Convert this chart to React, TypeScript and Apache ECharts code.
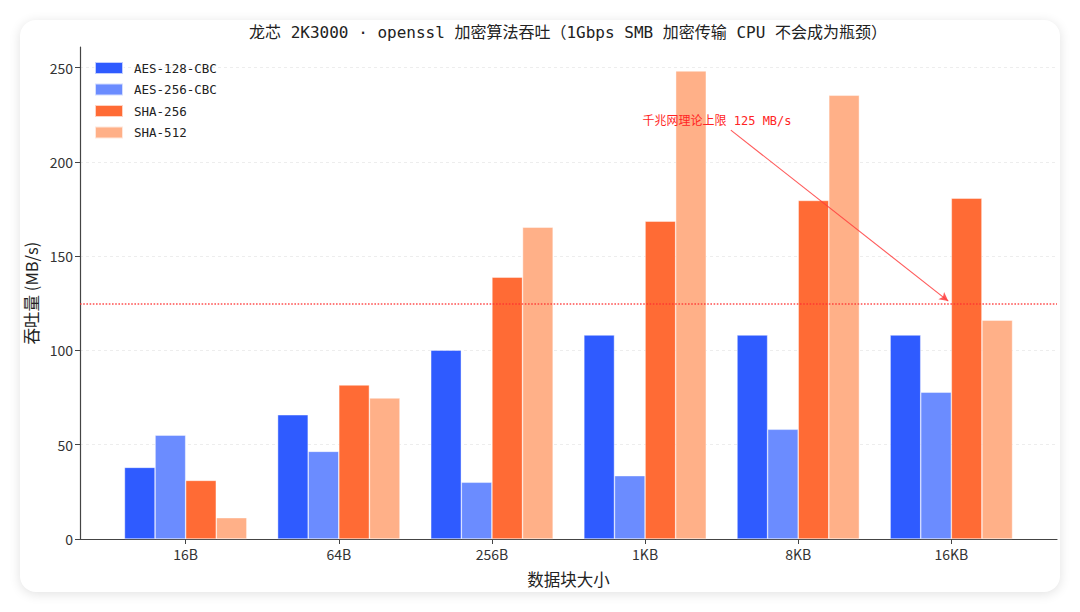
import React, { useEffect, useRef } from "react";
import * as echarts from "echarts";

const categories = ["16B", "64B", "256B", "1KB", "8KB", "16KB"];
const seriesNames = ["AES-128-CBC", "AES-256-CBC", "SHA-256", "SHA-512"];
const aes128 = [38.0, 65.9, 100.2, 108.2, 108.2, 108.2];
const aes256 = [55.1, 46.5, 30.1, 33.6, 58.2, 77.9];
const sha256 = [31.1, 81.7, 138.9, 168.6, 179.6, 180.8];
const sha512 = [11.3, 74.8, 165.4, 248.3, 235.4, 116.1];
const seriesColors = ["#2F5BFF", "#6B8CFF", "#FF6B35", "#FFB088"];
const yTicks = [0, 50, 100, 150, 200, 250];
const limitValue = 125;
const annotationText = "千兆网理论上限 125 MB/s";
const arrowFrom = [3.56, 216.9];
const arrowTo = [4.98, 126.2];
const annotationTextPos = [3.47, 221.5];

const titleText = "龙芯 2K3000 · openssl 加密算法吞吐（1Gbps SMB 加密传输 CPU 不会成为瓶颈）";
const MONO = "'DejaVu Sans Mono', 'Noto Sans CJK SC', monospace";
const SANS = "'Noto Sans CJK SC', 'Noto Sans', sans-serif";

export default function App() {
  const ref = useRef<HTMLDivElement>(null);

  useEffect(() => {
    if (!ref.current) return;
    const chart = echarts.init(ref.current, undefined, { renderer: "svg" });
    const values = [aes128, aes256, sha256, sha512];
    const series: any[] = values.map((vals, k) => ({
      type: "bar",
      name: seriesNames[k],
      data: vals.map((v, i) => [i, v]),
      barWidth: 30.6,
      barGap: "0%",
      itemStyle: {
        color: seriesColors[k],
        borderColor: "rgba(255,255,255,0.7)",
        borderWidth: 0.6,
      },
      emphasis: { disabled: true },
    }));
    // horizontal reference line at 125 MB/s (spans the full grid width)
    series[0].markLine = {
      silent: true,
      animation: false,
      symbol: ["none", "none"],
      label: { show: false },
      lineStyle: { color: "#FF3030", opacity: 0.85, type: [1.6, 1.6], width: 1.5 },
      data: [{ yAxis: limitValue }],
    };
    // annotation arrow + text
    series.push({
      type: "line",
      name: "annotation",
      data: [],
      silent: true,
      itemStyle: { color: "#FF4040" },
      markLine: {
        silent: true,
        animation: false,
        symbol: ["none", "arrow"],
        symbolSize: [7, 9],
        label: { show: false },
        lineStyle: { color: "rgba(255,60,60,0.85)", type: "solid", width: 1.1 },
        data: [[{ coord: arrowFrom }, { coord: arrowTo }]],
      },
      markPoint: {
        silent: true,
        animation: false,
        symbol: "circle",
        symbolSize: 0,
        data: [
          {
            coord: annotationTextPos,
            label: {
              show: true,
              position: "inside",
              formatter: annotationText,
              color: "#FF2424",
              fontSize: 12,
              fontFamily: MONO,
            },
          },
        ],
      },
    });

    chart.setOption({
      animation: false,
      title: {
        text: titleText,
        left: 568,
        top: 24,
        padding: 0,
        textAlign: "center",
        textStyle: { fontSize: 16, fontWeight: "normal", color: "#222", fontFamily: MONO },
      },
      legend: {
        orient: "vertical",
        left: 94,
        top: 61,
        padding: 0,
        itemWidth: 28,
        itemHeight: 12,
        itemGap: 7.5,
        icon: "rect",
        selectedMode: false,
        textStyle: { fontSize: 12.5, color: "#222", fontFamily: MONO, padding: [0, 0, 0, 6] },
        data: seriesNames,
      },
      grid: { left: 80, right: 23, top: 47, bottom: 73 },
      xAxis: {
        type: "value",
        min: -0.69,
        max: 5.69,
        name: "数据块大小",
        nameLocation: "middle",
        nameGap: 32,
        nameTextStyle: { fontSize: 16.5, color: "#222", fontFamily: SANS },
        axisLine: { show: true, onZero: false, lineStyle: { color: "#444", width: 1.2 } },
        axisTick: { show: true, length: 5, customValues: [0, 1, 2, 3, 4, 5], lineStyle: { color: "#444" } },
        axisLabel: {
          customValues: [0, 1, 2, 3, 4, 5],
          formatter: (v: number) => categories[Math.round(v)] ?? "",
          fontSize: 14,
          color: "#333",
          margin: 8,
          fontFamily: SANS,
        },
        splitLine: { show: false },
      },
      yAxis: {
        type: "value",
        min: 0,
        max: 261,
        interval: 50,
        name: "吞吐量 (MB/s)",
        nameLocation: "middle",
        nameGap: 39,
        nameTextStyle: { fontSize: 16.5, color: "#222", fontFamily: SANS },
        axisLine: { show: true, onZero: false, lineStyle: { color: "#444", width: 1.2 } },
        axisTick: { show: true, length: 5, customValues: yTicks, lineStyle: { color: "#444" } },
        axisLabel: { customValues: yTicks, fontSize: 14, color: "#333", margin: 7, fontFamily: SANS },
        splitLine: { show: true, lineStyle: { color: "#EDEDED", type: [3, 3], width: 1 } },
      },
      series,
    });
    return () => chart.dispose();
  }, []);

  return (
    <div style={{ position: "fixed", left: 0, top: 0, width: 1080, height: 612, background: "#FFFFFF" }}>
      <div
        style={{
          position: "absolute",
          left: 20,
          top: 20,
          width: 1040,
          height: 572,
          borderRadius: 16,
          background: "#FFFFFF",
          boxShadow: "0 2px 12px rgba(0,0,0,0.12)",
        }}
      />
      <div ref={ref} style={{ position: "absolute", left: 0, top: 0, width: 1080, height: 612 }} />
    </div>
  );
}
